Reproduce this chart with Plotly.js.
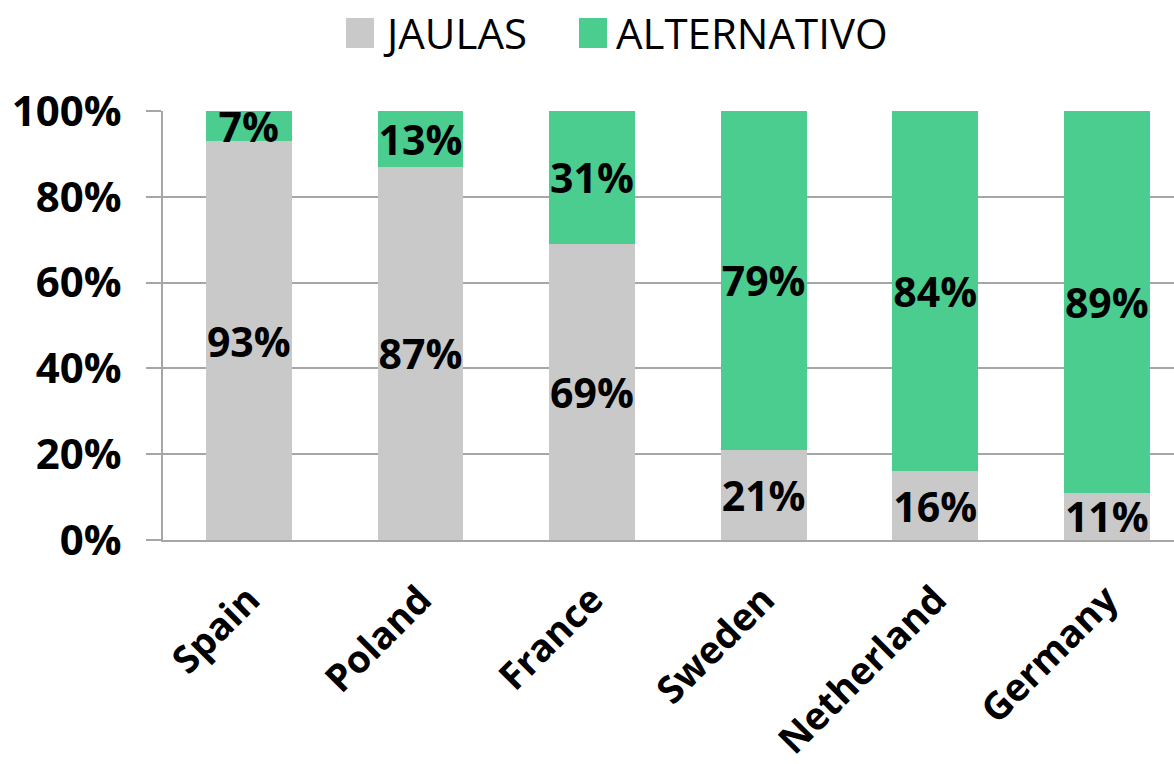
<!DOCTYPE html>
<html><head><meta charset="utf-8">
<script src="https://cdn.plot.ly/plotly-3.0.1.min.js"></script>
<style>html,body{margin:0;padding:0;background:#fff}#chart{width:1174px;height:764px}</style>
</head><body><div id="chart"></div>
<script>
var categories = ["Spain","Poland","France","Sweden","Netherland","Germany"];
var jaulas = [93, 87, 69, 21, 16, 11];
var alternativo = [7, 13, 31, 79, 84, 89];
var seriesNames = ["JAULAS", "ALTERNATIVO"];
var colors = ["#C9C9C9", "#4BCD8F"];
var yTicks = [0, 20, 40, 60, 80, 100];
var yTickLabels = ["0%", "20%", "40%", "60%", "80%", "100%"];

var W = 1174, H = 764;
var L = 163, R = 0, T = 111, B = 224;
var pw = W - L - R, ph = H - T - B;
function px(x){ return (x - L) / pw; }
function py(y){ return (H - B - y) / ph; }

var font = "'Open Sans', 'Noto Sans', sans-serif";
function mk(vals, i){
  return {
    type: "bar", x: categories, y: vals, name: seriesNames[i],
    marker: {color: colors[i], line: {width: 0}},
    text: vals.map(function(v){ return v + "%"; }),
    textposition: "inside", insidetextanchor: "middle",
    constraintext: "none", textangle: 0,
    textfont: {family: font, size: 41, color: "#000", weight: 700},
    hoverinfo: "skip", showlegend: false
  };
}
var data = [mk(jaulas, 0), mk(alternativo, 1)];

var shapes = [
  {type:"rect", xref:"paper", yref:"paper", x0:px(346), x1:px(374), y0:py(48), y1:py(18), fillcolor:colors[0], line:{width:0}},
  {type:"rect", xref:"paper", yref:"paper", x0:px(579), x1:px(607), y0:py(48), y1:py(18), fillcolor:colors[1], line:{width:0}}
];
var annotations = [
  {xref:"paper", yref:"paper", x:px(381), y:py(33), xanchor:"left", yanchor:"middle", showarrow:false, text:seriesNames[0], font:{family:font, size:42, color:"#000"}},
  {xref:"paper", yref:"paper", x:px(614), y:py(33), xanchor:"left", yanchor:"middle", showarrow:false, text:seriesNames[1], font:{family:font, size:42, color:"#000"}}
];

var layout = {
  width: W, height: H,
  margin: {l: L, r: R, t: T, b: B, pad: 0},
  paper_bgcolor: "#fff", plot_bgcolor: "#fff",
  barmode: "stack", bargap: 0.5,
  showlegend: false,
  xaxis: {
    type: "category", range: [-0.5, -0.5 + pw / 171.6],
    tickangle: -45, ticks: "", showgrid: false,
    showline: true, linecolor: "#A6A6A6", linewidth: 2,
    tickfont: {family: font, size: 38, color: "#000", weight: 700},
    ticklabelstandoff: 20, zeroline: false, fixedrange: true
  },
  yaxis: {
    range: [0, 100], tickvals: yTicks, ticktext: yTickLabels,
    showgrid: true, gridcolor: "#A6A6A6", gridwidth: 2,
    showline: true, linecolor: "#A6A6A6", linewidth: 2,
    ticks: "outside", ticklen: 15, tickwidth: 2, tickcolor: "#A6A6A6",
    tickfont: {family: font, size: 42, color: "#000", weight: 700},
    ticklabelstandoff: 16, zeroline: false, fixedrange: true
  },
  shapes: shapes, annotations: annotations
};
Plotly.newPlot("chart", data, layout, {displayModeBar: false, staticPlot: true});
</script></body></html>
